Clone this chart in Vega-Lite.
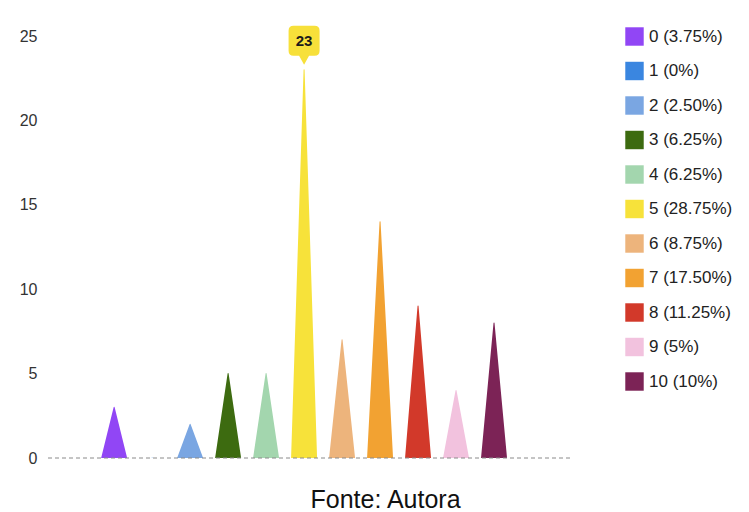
{
  "$schema": "https://vega.github.io/schema/vega-lite/v6.json",
  "width": 525,
  "height": 422,
  "autosize": {"type": "none"},
  "padding": {"left": 45, "top": 36, "right": 179, "bottom": 54},
  "background": "white",
  "config": {
    "view": {"stroke": null},
    "font": "Liberation Sans"
  },
  "title": {
    "text": "Fonte: Autora",
    "orient": "bottom",
    "anchor": "middle",
    "frame": "group",
    "dx": 78,
    "offset": 42,
    "baseline": "alphabetic",
    "fontSize": 25,
    "font": "Liberation Sans",
    "fontWeight": "normal",
    "color": "#111111"
  },
  "data": {
    "values": [
      {"nota": 0, "qtd": 3, "rotulo": "0 (3.75%)"},
      {"nota": 1, "qtd": 0, "rotulo": "1 (0%)"},
      {"nota": 2, "qtd": 2, "rotulo": "2 (2.50%)"},
      {"nota": 3, "qtd": 5, "rotulo": "3 (6.25%)"},
      {"nota": 4, "qtd": 5, "rotulo": "4 (6.25%)"},
      {"nota": 5, "qtd": 23, "rotulo": "5 (28.75%)"},
      {"nota": 6, "qtd": 7, "rotulo": "6 (8.75%)"},
      {"nota": 7, "qtd": 14, "rotulo": "7 (17.50%)"},
      {"nota": 8, "qtd": 9, "rotulo": "8 (11.25%)"},
      {"nota": 9, "qtd": 4, "rotulo": "9 (5%)"},
      {"nota": 10, "qtd": 8, "rotulo": "10 (10%)"}
    ]
  },
  "layer": [
    {
      "transform": [
        {"calculate": "0", "as": "base"},
        {"fold": ["base", "qtd"], "as": ["ponto", "altura"]}
      ],
      "mark": {"type": "trail", "opacity": 1, "clip": true},
      "encoding": {
        "x": {
          "field": "nota",
          "type": "quantitative",
          "scale": {"domain": [-1.82, 12], "nice": false, "zero": false},
          "axis": null
        },
        "y": {
          "field": "altura",
          "type": "quantitative",
          "scale": {"domain": [0, 25], "nice": false},
          "axis": {
            "title": null,
            "values": [0, 5, 10, 15, 20, 25],
            "grid": false,
            "ticks": false,
            "domain": false,
            "labelPadding": 8,
            "labelFontSize": 16,
            "labelFont": "Liberation Sans",
            "labelColor": "#333333"
          }
        },
        "size": {
          "field": "ponto",
          "type": "ordinal",
          "scale": {"domain": ["base", "qtd"], "range": [26, 0]},
          "legend": null
        },
        "order": {"field": "altura", "type": "quantitative"},
        "fill": {
          "field": "rotulo",
          "type": "nominal",
          "sort": null,
          "scale": {
            "domain": ["0 (3.75%)", "1 (0%)", "2 (2.50%)", "3 (6.25%)", "4 (6.25%)", "5 (28.75%)", "6 (8.75%)", "7 (17.50%)", "8 (11.25%)", "9 (5%)", "10 (10%)"],
            "range": ["#9146F5", "#3A86E0", "#7AA6E2", "#3D6B10", "#A3D6AE", "#F7E23A", "#EDB47C", "#F2A232", "#D2392A", "#F2C2DE", "#7C2356"]
          },
          "legend": {
            "orient": "none",
            "legendX": 580,
            "legendY": -9,
            "title": null,
            "symbolType": "square",
            "symbolSize": 340,
            "symbolStrokeWidth": 0,
            "symbolOpacity": 1,
            "labelFontSize": 17,
            "labelFont": "Liberation Sans",
            "labelColor": "#222222",
            "labelLimit": 200,
            "labelOffset": 5,
            "rowPadding": 15.5
          }
        }
      }
    },
    {
      "data": {"values": [{}]},
      "mark": {"type": "rule", "strokeDash": [4, 3], "color": "#8a8a8a", "strokeWidth": 1},
      "encoding": {"y": {"datum": 0, "type": "quantitative"}}
    },
    {
      "transform": [{"filter": "datum.nota === 5"}],
      "mark": {
        "type": "point",
        "shape": "M-0.68,-2.52 H0.68 Q1,-2.52 1,-2.2 V-0.9 Q1,-0.58 0.68,-0.58 H0.32 L0,0 L-0.32,-0.58 H-0.68 Q-1,-0.58 -1,-0.9 V-2.2 Q-1,-2.52 -0.68,-2.52 Z",
        "size": 961,
        "filled": true,
        "fill": "#F7E03A",
        "opacity": 1,
        "strokeWidth": 0,
        "yOffset": -5
      },
      "encoding": {
        "x": {"field": "nota", "type": "quantitative"},
        "y": {"field": "qtd", "type": "quantitative"}
      }
    },
    {
      "transform": [{"filter": "datum.nota === 5"}],
      "mark": {
        "type": "text",
        "fontSize": 15,
        "fontWeight": "bold",
        "font": "Liberation Sans",
        "color": "#1a1a1a",
        "baseline": "middle",
        "align": "center",
        "dy": -29
      },
      "encoding": {
        "x": {"field": "nota", "type": "quantitative"},
        "y": {"field": "qtd", "type": "quantitative"},
        "text": {"field": "qtd", "type": "quantitative"}
      }
    }
  ]
}
